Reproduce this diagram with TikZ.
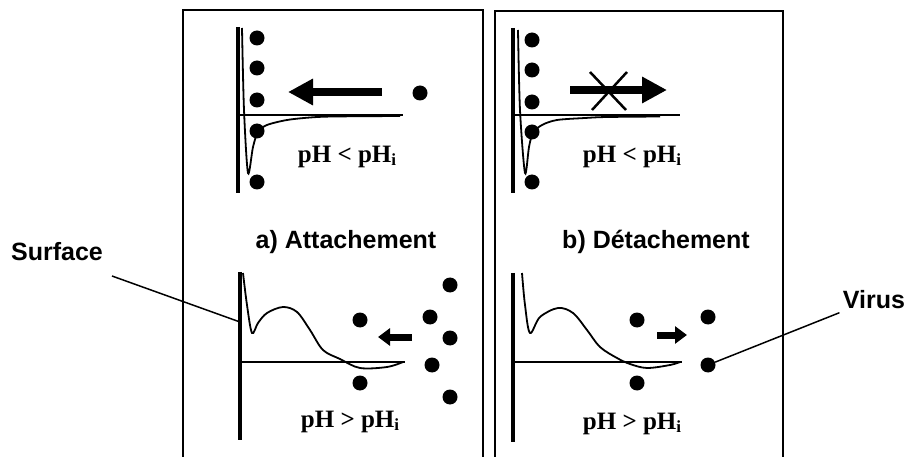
\documentclass[tikz,border=0pt]{standalone}
\usepackage{fontspec}
\setmainfont{Liberation Serif}
\setsansfont{Liberation Sans}
\usetikzlibrary{arrows.meta}

\tikzset{
  panel/.style={line width=1.5pt},
  wall/.style={line width=4pt},
  axisline/.style={line width=2pt},
  potential/.style={line width=1.8pt},
  leader/.style={line width=1.5pt},
  particle/.style={circle,fill,inner sep=0pt,minimum size=15pt},
  bigarrow/.style={line width=8pt,-{Triangle[length=25pt,width=25pt]}},
  smallarrow/.style={line width=7pt,-{Triangle[length=12pt,width=17pt]}},
  sanslabel/.style={font=\sffamily\bfseries\fontsize{25}{30}\selectfont},
  phlabel/.style={font=\bfseries\fontsize{25}{30}\selectfont},
}
\newcommand{\subi}{\raisebox{-3pt}{\fontsize{17}{20}\selectfont i}}

\begin{document}
\begin{tikzpicture}[x=1pt,y=-1pt]
  \useasboundingbox (0,0) rectangle (908,457);
  % panels
  \draw[panel] (183,457) -- (183,10) -- (483,10) -- (483,457);
  \draw[panel] (495,457) -- (495,11) -- (783,11) -- (783,457);

  % a) top: pH < pHi
  \draw[wall] (238,27) -- (238,193);
  \draw[axisline] (238,115) -- (403,115);
  \draw[potential] plot[smooth,tension=0.5] coordinates
    {(242,28) (244,110) (248,173) (253,147) (258,132) (267,125) (287,120) (310,117.5) (333,116.5) (400,116)};
  \foreach \y [count=\i] in {38,68,100,131,182}
    \node[particle] (pa\i) at (257,\y) {};
  \node[particle] (pa6) at (420,93) {};
  \coordinate (ta) at (382,92);
  \coordinate (ha) at (288,92);
  \draw[bigarrow] (ta) -- (ha);
  \node[phlabel] (pha) at (347,157) {pH < pH\subi};

  % b) top: pH < pHi
  \draw[wall] (513,28) -- (513,193);
  \draw[axisline] (513,115) -- (680,115);
  \draw[potential] plot[smooth,tension=0.5] coordinates
    {(518,30) (520,110) (525,173) (529,147) (533,133) (542,125) (557,120) (585,118) (607,117) (660,116.5)};
  \foreach \y [count=\i] in {40,70,102,132,182}
    \node[particle] (pb\i) at (532,\y) {};
  \coordinate (tb) at (570,90);
  \coordinate (hb) at (667,90);
  \draw[bigarrow] (tb) -- (hb);
  \draw[line width=2.5pt] (590,72) -- (626,110) (592,110) -- (627,72);
  \node[phlabel] (phb) at (632,157) {pH < pH\subi};

  % titles
  \node[sanslabel] (ttla) at (346,242) {a) Attachement};
  \node[sanslabel] (ttlb) at (656,242) {b) Détachement};

  % a) bottom: pH > pHi
  \draw[wall] (240,272) -- (240,440);
  \draw[axisline] (240,362) -- (405,362);
  \draw[potential] plot[smooth,tension=0.55] coordinates
    {(243,273) (247,305) (252,333) (258,323) (267,313) (283,307) (297,312) (310,330) (323,350) (340,359) (360,368) (387,367) (403,362)};
  \node[particle] (va1) at (360,320) {};
  \node[particle] (va2) at (360,383) {};
  \node[particle] (va3) at (450,285) {};
  \node[particle] (va4) at (430,317) {};
  \node[particle] (va5) at (450,338) {};
  \node[particle] (va6) at (432,365) {};
  \node[particle] (va7) at (450,397) {};
  \coordinate (tc) at (412,337);
  \coordinate (hc) at (378,337);
  \draw[smallarrow] (tc) -- (hc);
  \node[phlabel] (phc) at (350,422) {pH > pH\subi};

  % b) bottom: pH > pHi
  \draw[wall] (513,273) -- (513,442);
  \draw[axisline] (513,362) -- (682,362);
  \draw[potential] plot[smooth,tension=0.55] coordinates
    {(522,273) (525,305) (530,333) (540,317) (558,308) (573,313) (587,330) (600,347) (617,358) (630,364) (647,368) (670,365) (680,362)};
  \node[particle] (vb1) at (637,320) {};
  \node[particle] (vb2) at (637,383) {};
  \node[particle] (vb3) at (708,317) {};
  \node[particle] (vb4) at (708,365) {};
  \coordinate (td) at (657,335);
  \coordinate (hd) at (687,335);
  \draw[smallarrow] (td) -- (hd);
  \node[phlabel] (phd) at (632,424) {pH > pH\subi};

  % labels
  \node[sanslabel] (surf) at (57,252) {Surface};
  \coordinate (surftail) at (112,276);
  \coordinate (surfpt) at (240,322);
  \draw[leader] (surftail) -- (surfpt);
  \node[sanslabel] (vir) at (874,300) {Virus};
  \draw[leader] (vb4) -- (vir.south west);
\end{tikzpicture}
\end{document}
